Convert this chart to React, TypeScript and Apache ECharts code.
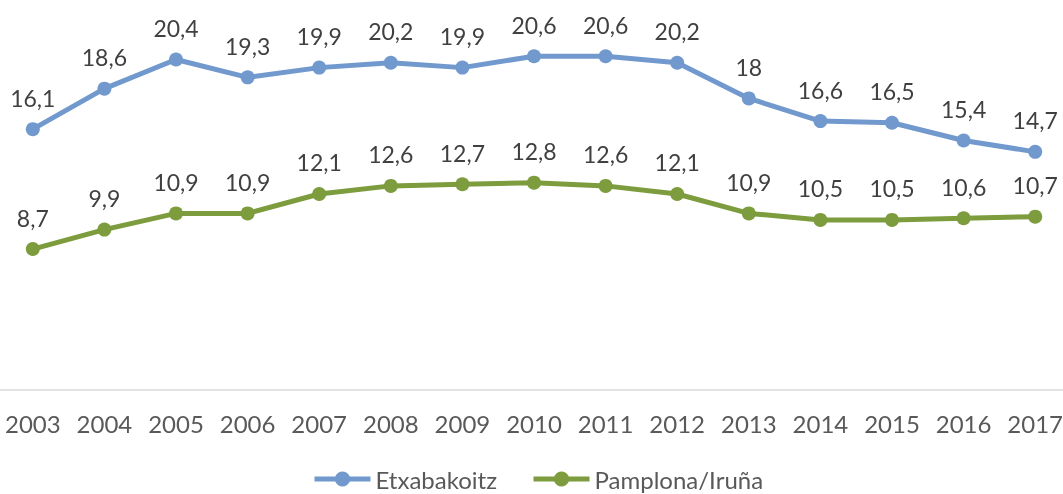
import React, { useEffect, useRef } from "react";
import * as echarts from "echarts";

const years = ["2003","2004","2005","2006","2007","2008","2009","2010","2011","2012","2013","2014","2015","2016","2017"];
const etxabakoitz = [16.1, 18.6, 20.4, 19.3, 19.9, 20.2, 19.9, 20.6, 20.6, 20.2, 18, 16.6, 16.5, 15.4, 14.7];
const pamplona = [8.7, 9.9, 10.9, 10.9, 12.1, 12.6, 12.7, 12.8, 12.6, 12.1, 10.9, 10.5, 10.5, 10.6, 10.7];

const FONT = "Lato";
const fmt = (p: any) => String(p.value).replace(".", ",");

export default function App() {
  const ref = useRef<HTMLDivElement>(null);
  useEffect(() => {
    if (!ref.current) return;
    const chart = echarts.init(ref.current, undefined, { renderer: "svg" });
    const mk = (name: string, data: number[], color: string) => ({
      name,
      type: "line",
      data,
      symbol: "circle",
      symbolSize: 14,
      lineStyle: { width: 5, color },
      itemStyle: { color },
      label: {
        show: true,
        position: "top",
        distance: 13,
        formatter: fmt,
        fontFamily: FONT,
        fontSize: 23,
        color: "#404040",
      },
    });
    chart.setOption({
      animation: false,
      textStyle: { fontFamily: FONT },
      grid: { left: 0, right: 0, top: 33.6, bottom: 104, containLabel: false },
      legend: {
        top: 467,
        left: 315,
        padding: 0,
        itemWidth: 56,
        itemHeight: 19,
        itemGap: 34,
        lineStyle: { width: 5 },
        textStyle: { fontFamily: FONT, fontSize: 24, color: "#595959" },
        data: ["Etxabakoitz", "Pamplona/Iruña"],
      },
      xAxis: {
        type: "category",
        data: years,
        boundaryGap: true,
        axisLine: { lineStyle: { color: "#d9d9d9", width: 1.5 } },
        axisTick: { show: false },
        axisLabel: {
          interval: 0,
          hideOverlap: false,
          fontFamily: FONT,
          fontSize: 24,
          color: "#595959",
          margin: 21,
        },
      },
      yAxis: {
        type: "value",
        min: 0,
        max: 22,
        show: false,
        splitLine: { show: false },
      },
      series: [
        mk("Etxabakoitz", etxabakoitz, "#7199cd"),
        mk("Pamplona/Iruña", pamplona, "#7c9c3d"),
      ],
    });
    return () => chart.dispose();
  }, []);
  return (
    <div style={{ position: "fixed", left: 0, top: 0, width: 1063, height: 494, overflow: "hidden" }}>
      <div
        ref={ref}
        style={{ position: "absolute", left: -3, top: 0, width: 1074, height: 494 }}
      />
    </div>
  );
}
